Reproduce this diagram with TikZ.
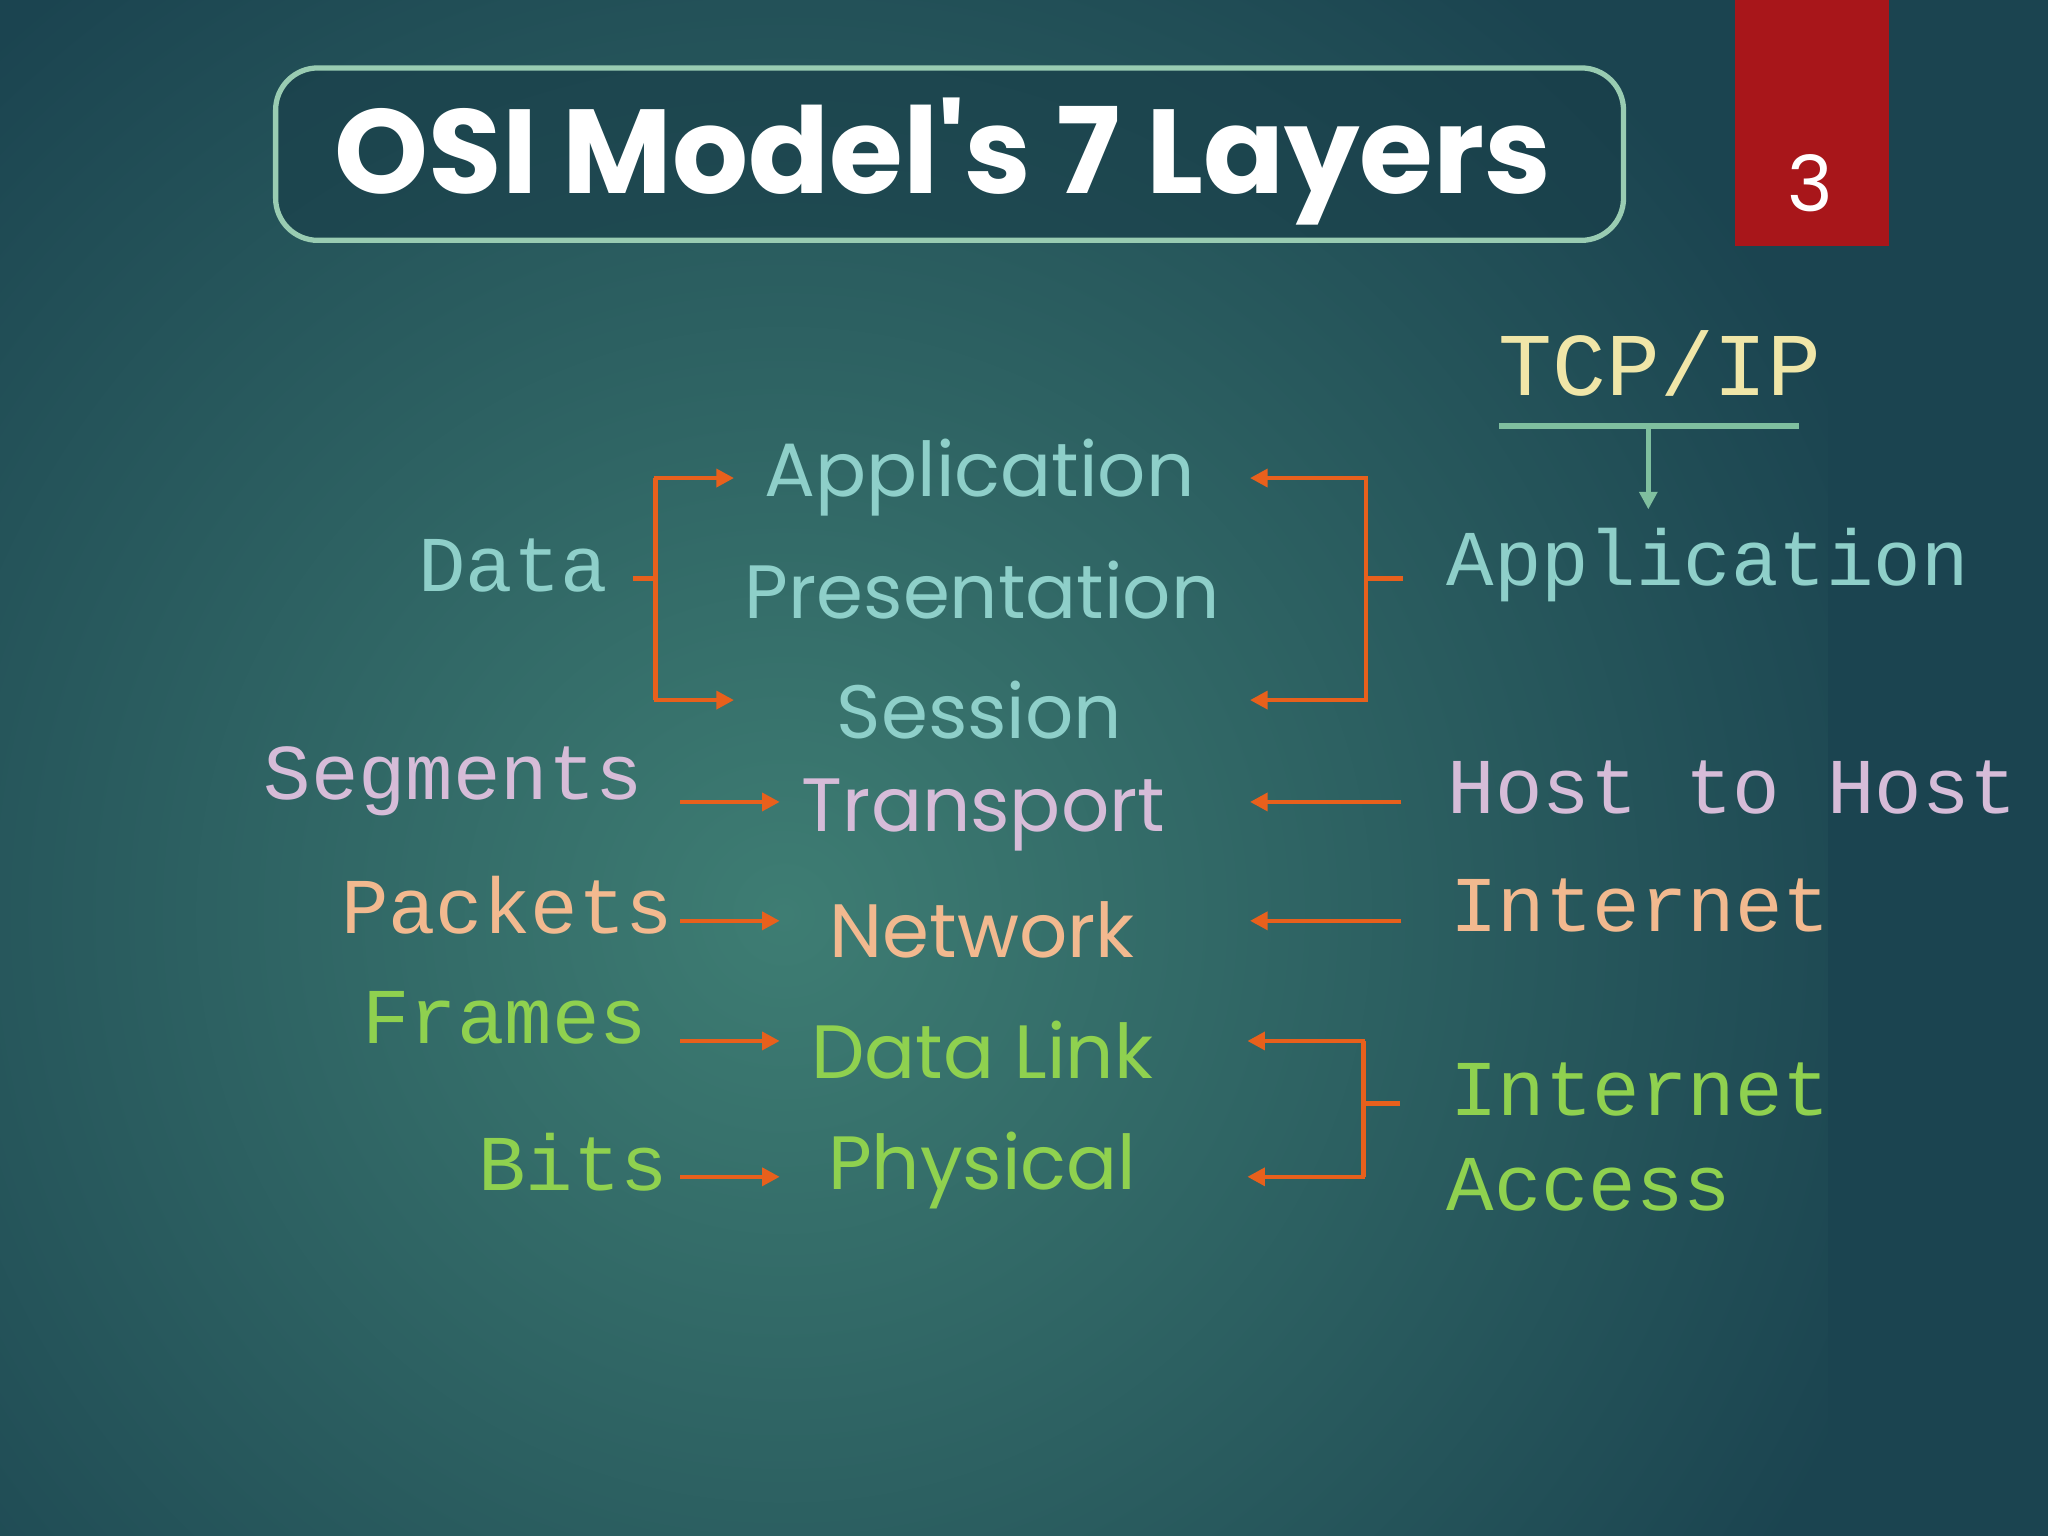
\documentclass[tikz,border=0pt]{standalone}
\usepackage{fontspec}
\setmainfont{Poppins}
\newfontfamily\mono{Liberation Mono}
\usetikzlibrary{arrows.meta}
\definecolor{cteal}{HTML}{8ECFC9}
\definecolor{clav}{HTML}{D6BCD8}
\definecolor{cpeach}{HTML}{F2B98F}
\definecolor{cgreen}{HTML}{8FD14F}
\definecolor{cyel}{HTML}{F0E6A8}
\definecolor{corange}{HTML}{E8601C}
\definecolor{cline}{HTML}{7FBF9F}
\definecolor{bgin}{HTML}{3E7D73}
\definecolor{bgout}{HTML}{1B4450}
\definecolor{cred}{HTML}{A8161A}
\tikzset{
 lay/.style={font=\fontsize{21.5}{24}\selectfont, inner sep=0pt},
 lab/.style={font=\mono\fontsize{22.5}{25}\selectfont, inner sep=0pt},
 oa/.style={draw=corange, line width=1.3pt, -{Triangle[length=5pt,width=5pt]}},
 ol/.style={draw=corange, line width=1.3pt},
}
\begin{document}
\begin{tikzpicture}[x=0.01306cm,y=-0.01306cm]
\useasboundingbox (0,0) rectangle (1568,1176);
\shade[inner color=bgin, outer color=bgout] (-300,-200) rectangle (1500,1600);
\fill[bgout] (1500,-200) rectangle (1568,1600);
\shade[left color=bgout!100, right color=bgout] (1400,0) rectangle (1568,1176);
% title
\node[draw=cline!80!white, line width=1.5pt, rounded corners=12pt, fill=bgout!90!black, fill opacity=0.6, text opacity=1, minimum width=1032*0.01306cm, minimum height=132*0.01306cm, anchor=north west, inner sep=0pt] (title) at (209,50) {};
\node[text=white, font=\fontsize{34}{38}\selectfont\bfseries, inner sep=0pt] (ttext) at (722,124) {OSI Model\textquotesingle s 7 Layers};
\fill[cred] (1328,0) rectangle (1446,188);
\node[text=white, font=\fontsize{22}{24}\selectfont, inner sep=0pt] (num) at (1386,140) {3};
% layers
\node[lay, text=cteal] (app) at (750,366) {Application};
\node[lay, text=cteal] (pres) at (752,452) {Presentation};
\node[lay, text=cteal] (sess) at (750,544) {Session};
\node[lay, text=clav] (trans) at (753,624) {Transport};
\node[lay, text=cpeach] (net) at (752,712) {Network};
\node[lay, text=cgreen] (dl) at (752,804) {Data Link};
\node[lay, text=cgreen] (phy) at (752,896) {Physical};
% left labels
\node[lab, text=cteal, anchor=east] (data) at (466,433) {Data};
\node[lab, text=clav, anchor=east] (seg) at (493,598) {Segments};
\node[lab, text=cpeach, anchor=east] (pack) at (516,693) {Packets};
\node[lab, text=cgreen, anchor=east] (frm) at (496,779) {Frames};
\node[lab, text=cgreen, anchor=east] (bits) at (512,890) {Bits};
% right labels
\node[lab, text=cteal, anchor=west] (tapp) at (1107,433) {Application};
\node[lab, text=clav, anchor=west] (hth) at (1108,603) {Host to Host};
\node[lab, text=cpeach, anchor=west] (inet) at (1110,693) {Internet};
\node[lab, text=cgreen, anchor=west] (ia1) at (1110,834) {Internet};
\node[lab, text=cgreen, anchor=west] (ia2) at (1107,907) {Access};
\node[font=\mono\fontsize{25.5}{28}\selectfont, text=cyel, inner sep=0pt, anchor=west] (tcp) at (1147,278) {TCP/IP};
\draw[cline, line width=1.6pt] (1148,326) -- (1377,326);
\draw[cline, line width=1.3pt, -{Triangle[length=5pt,width=5pt]}] (1262,326) -- (1262,390);
% left bracket
\draw[ol] (485,443) -- (502,443);
\draw[ol] (502,366) -- (502,536);
\draw[oa] (501,366) -- (562,366);
\draw[oa] (501,536) -- (562,536);
\draw[oa] (521,614) -- (597,614);
\draw[oa] (521,705) -- (597,705);
\draw[oa] (521,797) -- (597,797);
\draw[oa] (521,901) -- (597,901);
% right bracket
\draw[ol] (1046,366) -- (1046,536);
\draw[ol] (1046,443) -- (1074,443);
\draw[oa] (1047,366) -- (957,366);
\draw[oa] (1047,536) -- (957,536);
\draw[oa] (1073,614) -- (957,614);
\draw[oa] (1073,705) -- (957,705);
\draw[ol] (1044,797) -- (1044,901);
\draw[ol] (1044,845) -- (1072,845);
\draw[oa] (1045,797) -- (955,797);
\draw[oa] (1045,901) -- (955,901);
\end{tikzpicture}
\end{document}
